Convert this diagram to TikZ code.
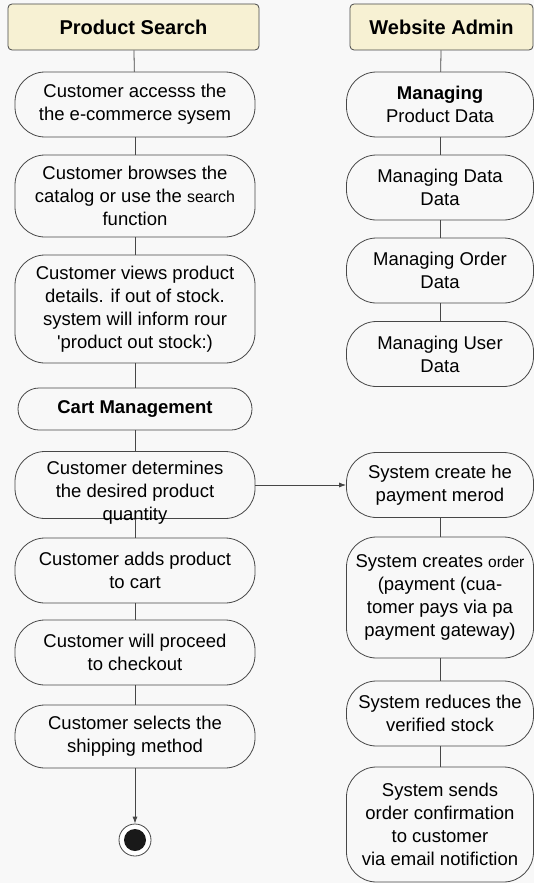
\documentclass[tikz,border=0pt]{standalone}
\usepackage{fontspec}
\setmainfont{Liberation Sans}
\usepackage{tikz}
\usetikzlibrary{arrows.meta}
\definecolor{lanefill}{HTML}{F7F1D3}
\definecolor{edge}{HTML}{474747}
\definecolor{paper}{HTML}{F8F8F8}
\newcommand{\acttext}{\fontsize{18.5}{23}\selectfont}

\begin{document}
\begin{tikzpicture}[x=1pt,y=-1pt,>={Latex[length=7pt,width=5pt]},
  lane/.style={draw=edge,fill=lanefill,rounded corners=4pt,line width=0.8pt,minimum height=46pt,font=\fontsize{20}{24}\selectfont\bfseries},
  act/.style={draw=edge,rounded corners=30pt,line width=0.8pt,align=center,inner sep=1pt,font=\acttext},
  flow/.style={draw=edge,line width=0.8pt}]
  \fill[paper] (0,0) rectangle (534,883);
  \useasboundingbox (0,0) rectangle (534,883);
  % customer lane
  \node[lane,minimum width=251pt] (search) at (133.5,27) {Product Search};
  \node[act,minimum width=240pt,minimum height=65pt] (access) at (135,104.5) {Customer accesss the\\the e-commerce sysem};
  \node[act,minimum width=240pt,minimum height=82pt] (browse) at (135,196) {Customer browses the\\catalog or use the {\fontsize{16}{23}\selectfont search}\\function};
  \node[act,minimum width=240pt,minimum height=108pt] (details) at (135,309) {Customer views product\\details. if out of stock.\\system will inform rour\\\textquotesingle product out stock:)};
  \node[act,rounded corners=21pt,minimum width=234pt,minimum height=42pt,font=\acttext\bfseries] (cart) at (135,409) {Cart Management};
  \node[act,minimum width=240pt,minimum height=67pt] (qty) at (135,485) {};
  \node[font=\acttext,align=center] at ([yshift=-8pt]qty.center) {Customer determines\\the desired product\\quantity};
  \node[act,minimum width=240pt,minimum height=65pt] (addcart) at (135,570.5) {Customer adds product\\to cart};
  \node[act,minimum width=240pt,minimum height=65pt] (checkout) at (135,652.5) {Customer will proceed\\to checkout};
  \node[act,minimum width=240pt,minimum height=63pt] (shipping) at (135,736.5) {Customer selects the\\shipping method};
  \node[circle,draw=edge,fill=white,line width=0.8pt,minimum size=32pt,inner sep=0pt] (stop) at (135,840) {};
  \fill[black!90] (stop.center) circle[radius=11pt];
  % admin lane
  \node[lane,minimum width=183pt] (admin) at (441.5,27) {Website Admin};
  \node[act,minimum width=187pt,minimum height=65pt] (product) at (440,104.5) {\textbf{Managing}\\Product Data};
  \node[act,minimum width=187pt,minimum height=65pt] (data) at (440,187.5) {Managing Data\\Data};
  \node[act,minimum width=187pt,minimum height=65pt] (order) at (440,270.5) {Managing Order\\Data};
  \node[act,minimum width=187pt,minimum height=65pt] (user) at (440,354) {Managing User\\Data};
  \node[act,minimum width=187pt,minimum height=65pt] (paymethod) at (440,485) {System create he\\payment merod};
  \node[act,minimum width=187pt,minimum height=121pt] (createorder) at (440,597.5) {System creates {\fontsize{15.5}{23}\selectfont order}\\(payment (cua-\\tomer pays via pa\\payment gateway)};
  \node[act,minimum width=187pt,minimum height=65pt] (stock) at (440,713.5) {System reduces the\\verified stock};
  \node[act,minimum width=187pt,minimum height=115pt] (confirm) at (440,824.5) {System sends\\order confirmation\\to customer\\via email notifiction};
  % connectors
  \draw[flow] (search) -- (access);
  \draw[flow] (access) -- (browse);
  \draw[flow] (browse) -- (details);
  \draw[flow] (details) -- (cart);
  \draw[flow] (cart) -- (qty);
  \draw[flow] (qty) -- (addcart);
  \draw[flow] (addcart) -- (checkout);
  \draw[flow] (checkout) -- (shipping);
  \draw[flow,->] (shipping) -- (stop);
  \draw[flow] (admin) -- (product);
  \draw[flow] (product) -- (data);
  \draw[flow] (data) -- (order);
  \draw[flow] (order) -- (user);
  \draw[flow] (paymethod) -- (createorder);
  \draw[flow] (createorder) -- (stock);
  \draw[flow] (stock) -- (confirm);
  \draw[flow,->] (qty) -- (paymethod);
\end{tikzpicture}
\end{document}
